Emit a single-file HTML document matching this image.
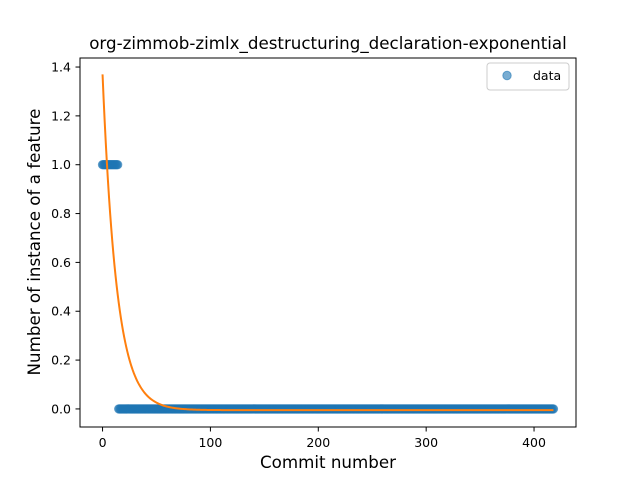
<!DOCTYPE html>
<html><head><meta charset="utf-8"><style>
html,body{margin:0;padding:0;background:#fff;}
svg text{font-family:"DejaVu Sans","Liberation Sans",sans-serif;}
</style></head><body>
<svg id="chart" width="640" height="480" xmlns="http://www.w3.org/2000/svg">
<rect width="640" height="480" fill="#fff"/>
<text x="328" y="49" font-size="16.7" text-anchor="middle">org-zimmob-zimlx_destructuring_declaration-exponential</text>
<g id="marks"></g>
<rect x="80" y="58" width="496" height="369" fill="none" stroke="#000" stroke-width="1"/>
<g id="xticks"></g><g id="yticks"></g>
<text x="328" y="468" font-size="16.7" text-anchor="middle">Commit number</text>
<text transform="translate(40,242) rotate(-90)" font-size="16.7" text-anchor="middle">Number of instance of a feature</text>
<g>
<rect x="487" y="63" width="82" height="27" rx="3" fill="#fff" fill-opacity="0.8" stroke="#ccc"/>
<circle cx="507" cy="75.5" r="4.2" fill="#1f77b4" fill-opacity="0.6" stroke="#1f77b4" stroke-opacity="0.6"/>
<text x="533" y="80" font-size="12.5">data</text>
</g>
</svg>
<script>
const values = [1,1,1,1,1,1,1,1,1,1,1,1,1,1,1].concat(new Array(404).fill(0));
const fitParams = [1.375, 0.076, -0.005];
const xTicks = [0,100,200,300,400];
const yTicks = [0.0,0.2,0.4,0.6,0.8,1.0,1.2,1.4];

const X0=80,X1=576,Y0=427,Y1=58;
const xmin=-20.9,xmax=438.9,ymin=-0.074,ymax=1.437;
const sx=v=>X0+(v-xmin)/(xmax-xmin)*(X1-X0);
const sy=v=>Y0-(v-ymin)/(ymax-ymin)*(Y0-Y1);
const NS="http://www.w3.org/2000/svg";
const marks=document.getElementById('marks');
values.forEach((v,i)=>{
  const c=document.createElementNS(NS,'circle');
  c.setAttribute('cx',sx(i));c.setAttribute('cy',sy(v));c.setAttribute('r',4.2);
  c.setAttribute('fill','#1f77b4');c.setAttribute('fill-opacity','0.6');
  c.setAttribute('stroke','#1f77b4');c.setAttribute('stroke-opacity','0.6');
  
  
  marks.appendChild(c);
});
let d='';
for(let i=0;i<values.length;i++){
  const y=fitParams[0]*Math.exp(-fitParams[1]*i)+fitParams[2];
  d+=(i?'L':'M')+sx(i).toFixed(2)+','+sy(y).toFixed(2);
}
const p=document.createElementNS(NS,'path');
p.setAttribute('d',d);p.setAttribute('fill','none');p.setAttribute('stroke','#ff7f0e');p.setAttribute('stroke-width','2');


marks.appendChild(p);
const xt=document.getElementById('xticks');
xTicks.forEach(t=>{
  const x=sx(t);
  const l=document.createElementNS(NS,'line');
  l.setAttribute('x1',x);l.setAttribute('x2',x);l.setAttribute('y1',Y0);l.setAttribute('y2',Y0+4.5);l.setAttribute('stroke','#000');
  
  
  xt.appendChild(l);
  const tx=document.createElementNS(NS,'text');
  tx.setAttribute('x',x);tx.setAttribute('y',Y0+20);tx.setAttribute('font-size','12.5');tx.setAttribute('text-anchor','middle');
  tx.textContent=t;
  
  
  xt.appendChild(tx);
});
const yt=document.getElementById('yticks');
yTicks.forEach(t=>{
  const y=sy(t);
  const l=document.createElementNS(NS,'line');
  l.setAttribute('x1',X0-4.5);l.setAttribute('x2',X0);l.setAttribute('y1',y);l.setAttribute('y2',y);l.setAttribute('stroke','#000');
  
  
  yt.appendChild(l);
  const tx=document.createElementNS(NS,'text');
  tx.setAttribute('x',X0-9);tx.setAttribute('y',y+4.5);tx.setAttribute('font-size','12.5');tx.setAttribute('text-anchor','end');
  tx.textContent=t.toFixed(1);
  
  
  yt.appendChild(tx);
});
</script>
</body></html>
